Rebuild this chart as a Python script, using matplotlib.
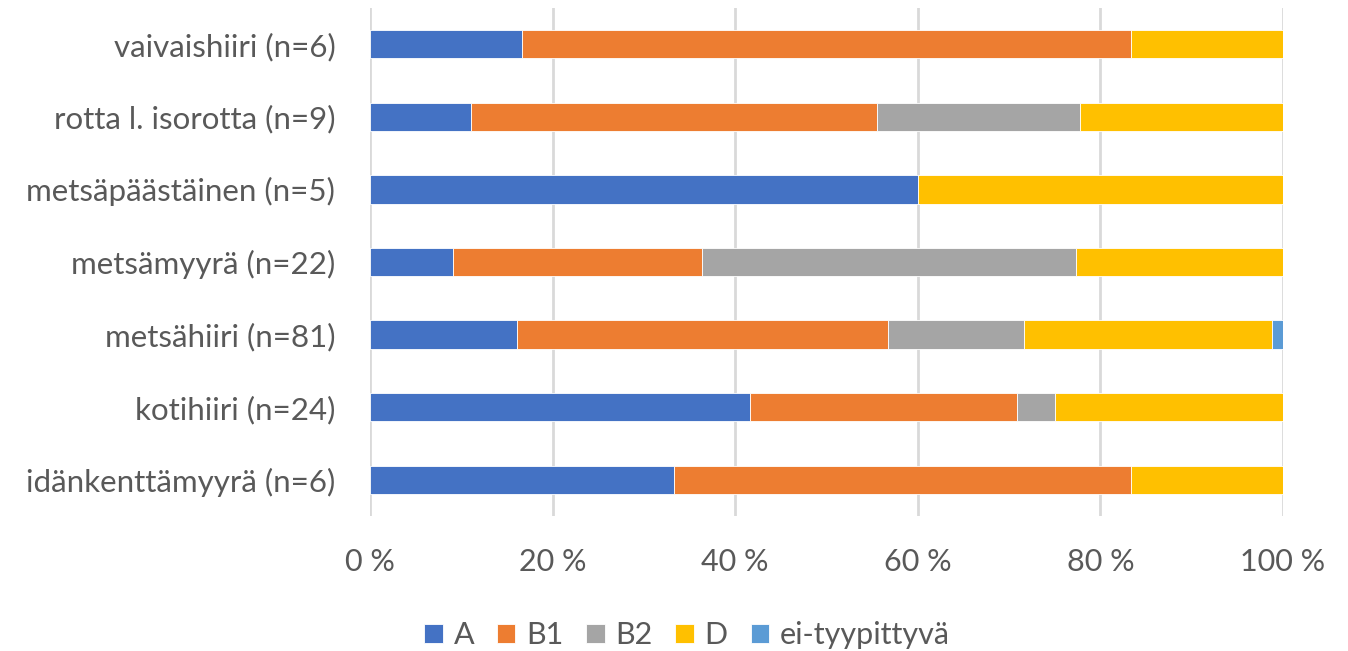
import numpy as np
import matplotlib.pyplot as plt

# species (top to bottom as shown) and counts per type
species = ['vaivaishiiri (n=6)', 'rotta l. isorotta (n=9)', 'metsäpäästäinen (n=5)',
           'metsämyyrä (n=22)', 'metsähiiri (n=81)', 'kotihiiri (n=24)',
           'idänkenttämyyrä (n=6)']
n_total = [6, 9, 5, 22, 81, 24, 6]
cnt_A = [1, 1, 3, 2, 13, 10, 2]
cnt_B1 = [4, 4, 0, 6, 33, 7, 3]
cnt_B2 = [0, 2, 0, 9, 12, 1, 0]
cnt_D = [1, 2, 2, 5, 22, 6, 1]
cnt_ei = [0, 0, 0, 0, 1, 0, 0]

series_names = ['A', 'B1', 'B2', 'D', 'ei-tyypittyvä']
colors = ['#4472C4', '#ED7D31', '#A5A5A5', '#FFC000', '#5B9BD5']
xticks = [0, 20, 40, 60, 80, 100]

plt.rcParams['font.family'] = ['Lato', 'DejaVu Sans']
text_col = '#595959'

fig = plt.figure(figsize=(13.48, 6.51), dpi=100)
ax = fig.add_axes([370 / 1348, 1 - 516 / 651, 913 / 1348, 508 / 651])

y = np.arange(len(species))[::-1]
tot = np.array(n_total, dtype=float)
left = np.zeros(len(species))
for name, cnt, col in zip(series_names, [cnt_A, cnt_B1, cnt_B2, cnt_D, cnt_ei], colors):
    pct = np.array(cnt) / tot * 100
    ax.barh(y, pct, left=left, height=0.39, color=col, label=name,
            edgecolor='white', linewidth=0.6, zorder=3)
    left += pct

ax.set_xlim(0, 100)
ax.set_ylim(-0.5, len(species) - 0.5)
ax.set_yticks(y)
ax.set_yticklabels(species, fontsize=22.5, color=text_col)
ax.set_xticks(xticks)
ax.set_xticklabels([f'{t} %' for t in xticks], fontsize=22, color=text_col)
ax.tick_params(axis='both', length=0)
ax.tick_params(axis='y', pad=25)
ax.tick_params(axis='x', pad=23)
ax.grid(axis='x', color='#D9D9D9', linewidth=2, zorder=0)
for s in ax.spines.values():
    s.set_visible(False)

ax.legend(loc='center', bbox_to_anchor=((687 - 370) / 913, -(635 - 516) / 508), ncol=5,
          frameon=False, fontsize=22, handlelength=0.6, handleheight=0.6,
          handletextpad=0.35, columnspacing=0.75, labelcolor=text_col)

fig.savefig('out.png', dpi=100)
